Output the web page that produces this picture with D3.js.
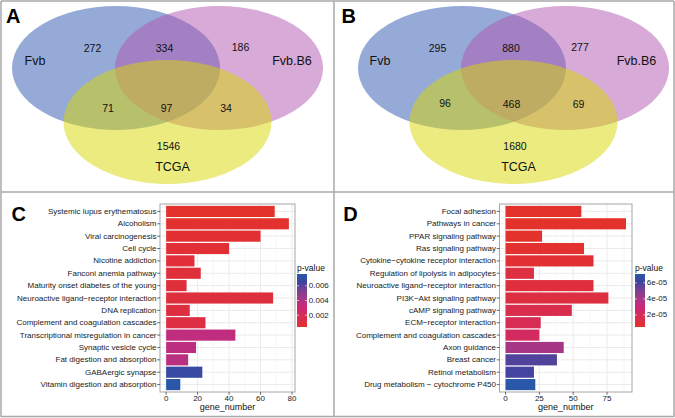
<!DOCTYPE html>
<html><head><meta charset="utf-8">
<script src="https://cdn.jsdelivr.net/npm/d3@7"></script>
<style>body{margin:0;background:#fff}svg{display:block;font-family:"Liberation Sans",Arial,sans-serif}</style>
</head><body><svg id="chart" width="675" height="418"></svg>
<script>
// ---------- Venn data ----------
const vennSets = ["Fvb", "Fvb.B6", "TCGA"];
const vennRegions = ["Fvb", "Fvb&Fvb.B6", "Fvb.B6", "Fvb&TCGA", "Fvb&Fvb.B6&TCGA", "Fvb.B6&TCGA", "TCGA"];
const vennCountsA = [272, 334, 186, 71, 97, 34, 1546];
const vennCountsB = [295, 880, 277, 96, 468, 69, 1680];

// ---------- Panel C data ----------
const pathwaysC = ["Systemic lupus erythematosus", "Alcoholism", "Viral carcinogenesis", "Cell cycle",
  "Nicotine addiction", "Fanconi anemia pathway", "Maturity onset diabetes of the young",
  "Neuroactive ligand\u2212receptor interaction", "DNA replication", "Complement and coagulation cascades",
  "Transcriptional misregulation in cancer", "Synaptic vesicle cycle", "Fat digestion and absorption",
  "GABAergic synapse", "Vitamin digestion and absorption"];
const genesC = [69, 78, 60, 40, 18, 22, 13, 68, 15, 25, 44, 19, 14, 23, 9];
const pvalsC = [0.0004, 0.0005, 0.0006, 0.0007, 0.0008, 0.0009, 0.0009, 0.001, 0.0011, 0.0012,
  0.0035, 0.0036, 0.0037, 0.0068, 0.0076];
const xTicksC = [0, 20, 40, 60, 80];
const pTicksC = [0.002, 0.004, 0.006];
const pTickLabelsC = ["0.002", "0.004", "0.006"];

// ---------- Panel D data ----------
const pathwaysD = ["Focal adhesion", "Pathways in cancer", "PPAR signaling pathway", "Ras signaling pathway",
  "Cytokine\u2212cytokine receptor interaction", "Regulation of lipolysis in adipocytes",
  "Neuroactive ligand\u2212receptor interaction", "PI3K\u2212Akt signaling pathway", "cAMP signaling pathway",
  "ECM\u2212receptor interaction", "Complement and coagulation cascades", "Axon guidance", "Breast cancer",
  "Retinol metabolism", "Drug metabolism \u2212 cytochrome P450"];
const genesD = [56, 89, 27, 58, 65, 21, 65, 76, 49, 26, 25, 43, 38, 21, 22];
const pvalsD = [5e-6, 5e-6, 5e-6, 6e-6, 7e-6, 1.2e-5, 1.0e-5, 1.2e-5, 1.6e-5, 1.8e-5, 2.2e-5,
  4.0e-5, 5.8e-5, 6.0e-5, 7.1e-5];
const xTicksD = [0, 25, 50, 75];
const pTicksD = [2e-5, 4e-5, 6e-5];
const pTickLabelsD = ["2e-05", "4e-05", "6e-05"];

// ---------- layout ----------
const svg = d3.select("#chart");
const FONT = "'Liberation Sans', Arial, sans-serif";

// panel frame
const frameX = [1, 334, 674], frameY = [1, 192, 416.5];
frameX.forEach(x => svg.append("line").attr("x1", x).attr("x2", x).attr("y1", 1).attr("y2", 417)
  .attr("stroke", "#a8a8a8").attr("stroke-width", 1.5));
frameY.forEach(y => svg.append("line").attr("x1", 1).attr("x2", 674).attr("y1", y).attr("y2", y)
  .attr("stroke", "#a8a8a8").attr("stroke-width", 1.5));

// ---------- Venn ----------
const setColors = ["#2d55af", "#af55af", "#d7d700"];
// unit coordinates of set centres and region anchors
const setCentres = [[-1, 0], [1, 0], [0, 1]];
const unitRx = 2.02, unitRy = 1.148;

function drawVenn(cx, counts, anchors, setLabelPos) {
  const xs = d3.scaleLinear().domain([0, 1]).range([cx, cx + 51.5]);
  const ys = d3.scaleLinear().domain([0, 1]).range([68, 122]);
  const g = svg.append("g");
  vennSets.forEach((s, i) => {
    g.append("ellipse")
      .attr("cx", xs(setCentres[i][0])).attr("cy", ys(setCentres[i][1]))
      .attr("rx", xs(unitRx) - xs(0)).attr("ry", ys(unitRy) - ys(0))
      .attr("fill", setColors[i]).attr("fill-opacity", 0.5);
  });
  counts.forEach((c, i) => {
    g.append("text").attr("x", cx + anchors[i][0]).attr("y", 68 + anchors[i][1])
      .attr("text-anchor", "middle").attr("dominant-baseline", "central")
      .attr("font-size", 10.5).attr("fill", "#111").text(c);
  });
  vennSets.forEach((s, i) => {
    g.append("text").attr("x", cx + setLabelPos[i][0]).attr("y", 68 + setLabelPos[i][1])
      .attr("text-anchor", "middle").attr("dominant-baseline", "central")
      .attr("font-size", 12.5).attr("fill", "#111").text(s);
  });
}
drawVenn(167.5, vennCountsA,
  [[-75, -20], [-3, -20], [73, -21], [-59.5, 40], [-1, 40], [58.5, 40], [1, 77.7]],
  [[-132.5, -7], [124.5, -7], [5, 99.3]]);
drawVenn(513.5, vennCountsB,
  [[-76, -20], [-2.5, -20], [66.5, -21], [-68.5, 35], [-2, 36], [65, 36], [1.5, 77.7]],
  [[-133.5, -7], [123, -7], [5, 99.3]]);

// ---------- Bar panels ----------
function colorScale(lo, hi) {
  return d3.scaleLinear()
    .domain([lo, lo + (hi - lo) * 0.4, lo + (hi - lo) * 0.85, hi])
    .range(["#e3312b", "#c8287c", "#3b43a0", "#2958a8"])
    .interpolate(d3.interpolateLab).clamp(true);
}

function drawBars(cfg) {
  const { cats, vals, pv, ticks, pticks, plabels, x0, x1, lx, gradId } = cfg;
  const y0 = 204, y1 = 392;
  const maxV = d3.max(vals);
  const x = d3.scaleLinear().domain([-0.05 * maxV, maxV * 1.05]).range([x0, x1]);
  const y = d3.scaleBand().domain(cats).range([y0, y1]).paddingInner(0.1).paddingOuter(0.15);
  const pmin = d3.min(pv), pmax = d3.max(pv);
  const col = colorScale(pmin, pmax);
  const g = svg.append("g");

  g.append("rect").attr("x", x0).attr("y", y0).attr("width", x1 - x0).attr("height", y1 - y0).attr("fill", "#fff");
  // minor grid
  for (let i = 0; i < ticks.length; i++) {
    const step = ticks[1] - ticks[0];
    const m = ticks[i] + step / 2;
    if (x(m) < x1) g.append("line").attr("x1", x(m)).attr("x2", x(m)).attr("y1", y0).attr("y2", y1)
      .attr("stroke", "#f2f2f2").attr("stroke-width", 0.6);
  }
  ticks.forEach(t => g.append("line").attr("x1", x(t)).attr("x2", x(t)).attr("y1", y0).attr("y2", y1)
    .attr("stroke", "#ebebeb").attr("stroke-width", 1));
  cats.forEach(c => {
    const cy = y(c) + y.bandwidth() / 2;
    g.append("line").attr("x1", x0).attr("x2", x1).attr("y1", cy).attr("y2", cy)
      .attr("stroke", "#ebebeb").attr("stroke-width", 1);
  });
  // bars
  g.selectAll("rect.bar").data(cats).join("rect").attr("class", "bar")
    .attr("x", x(0)).attr("y", c => y(c))
    .attr("width", (c, i) => x(vals[i]) - x(0)).attr("height", y.bandwidth())
    .attr("fill", (c, i) => col(pv[i]));
  // border
  g.append("rect").attr("x", x0).attr("y", y0).attr("width", x1 - x0).attr("height", y1 - y0)
    .attr("fill", "none").attr("stroke", "#a6a6a6").attr("stroke-width", 1);
  // y axis labels + ticks
  cats.forEach(c => {
    const cy = y(c) + y.bandwidth() / 2;
    g.append("line").attr("x1", x0 - 2.75).attr("x2", x0).attr("y1", cy).attr("y2", cy).attr("stroke", "#444").attr("stroke-width", 0.8);
    g.append("text").attr("x", x0 - 3.5).attr("y", cy).attr("text-anchor", "end")
      .attr("dominant-baseline", "central").attr("font-size", 8).attr("fill", "#1a1a1a").text(c);
  });
  // x axis
  ticks.forEach(t => {
    g.append("line").attr("x1", x(t)).attr("x2", x(t)).attr("y1", y1).attr("y2", y1 + 2.75).attr("stroke", "#444").attr("stroke-width", 0.8);
    g.append("text").attr("x", x(t)).attr("y", y1 + 8.5).attr("text-anchor", "middle")
      .attr("font-size", 8).attr("fill", "#1a1a1a").text(t);
  });
  g.append("text").attr("x", (x0 + x1) / 2).attr("y", y1 + 18).attr("text-anchor", "middle")
    .attr("font-size", 9).attr("fill", "#111").text("gene_number");

  // legend
  const ly0 = 274, ly1 = 327, lw = 10;
  const ls = d3.scaleLinear().domain([pmin, pmax]).range([ly1, ly0]);
  const grad = svg.append("defs").append("linearGradient").attr("id", gradId)
    .attr("x1", 0).attr("x2", 0).attr("y1", 1).attr("y2", 0);
  d3.range(0, 1.0001, 0.05).forEach(f => grad.append("stop").attr("offset", f)
    .attr("stop-color", col(pmin + f * (pmax - pmin))));
  g.append("text").attr("x", lx).attr("y", 270.5).attr("font-size", 8.5).attr("fill", "#111").text("p-value");
  g.append("rect").attr("x", lx).attr("y", ly0).attr("width", lw).attr("height", ly1 - ly0).attr("fill", `url(#${gradId})`);
  pticks.forEach((t, i) => {
    const ty = ls(t);
    g.append("line").attr("x1", lx).attr("x2", lx + 2).attr("y1", ty).attr("y2", ty).attr("stroke", "#fff").attr("stroke-width", 0.6);
    g.append("line").attr("x1", lx + lw - 2).attr("x2", lx + lw).attr("y1", ty).attr("y2", ty).attr("stroke", "#fff").attr("stroke-width", 0.6);
    g.append("text").attr("x", lx + lw + 1.8).attr("y", ty).attr("dominant-baseline", "central")
      .attr("font-size", 8).attr("fill", "#1a1a1a").text(plabels[i]);
  });
}

drawBars({ cats: pathwaysC, vals: genesC, pv: pvalsC, ticks: xTicksC, pticks: pTicksC, plabels: pTickLabelsC,
  x0: 160, x1: 295, lx: 297, gradId: "gC" });
drawBars({ cats: pathwaysD, vals: genesD, pv: pvalsD, ticks: xTicksD, pticks: pTicksD, plabels: pTickLabelsD,
  x0: 499.5, x1: 632, lx: 635, gradId: "gD" });

// panel letters
const letters = [["A", 6, 23.3], ["B", 341.5, 22.7], ["C", 11.5, 220.7], ["D", 343.3, 220.7]];
letters.forEach(([t, lx, ly]) => svg.append("text").attr("x", lx).attr("y", ly)
  .attr("font-size", 20).attr("font-weight", "bold").attr("fill", "#000").text(t));
</script></body></html>
